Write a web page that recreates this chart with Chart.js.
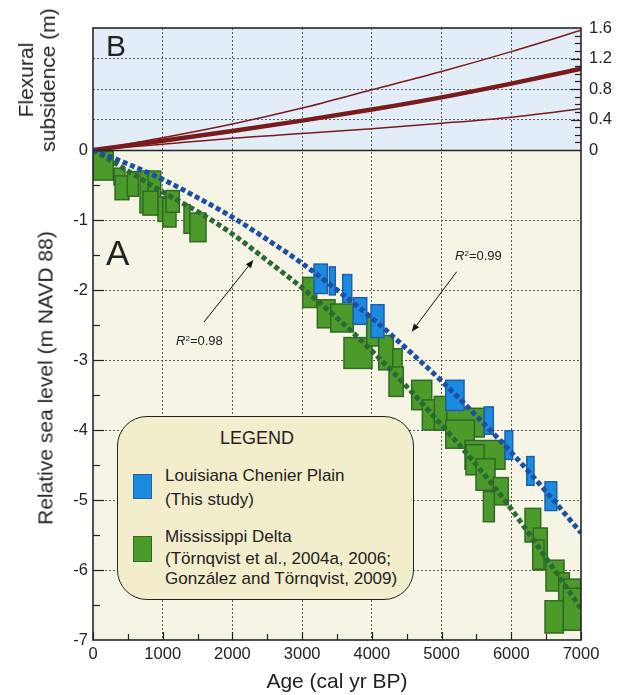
<!DOCTYPE html>
<html>
<head>
<meta charset="utf-8">
<script src="https://cdn.jsdelivr.net/npm/chart.js@4.4.1/dist/chart.umd.min.js"></script>
<style>
html,body{margin:0;padding:0;background:#fff;}
#wrap{position:relative;width:622px;height:695px;overflow:hidden;font-family:"Liberation Sans",Arial,Helvetica,sans-serif;color:#222;}
#c{position:absolute;left:0;top:0;}
.t{position:absolute;white-space:nowrap;line-height:1;}
.rot{position:absolute;white-space:nowrap;text-align:center;transform:translate(-50%,-50%) rotate(-90deg);}
#legend{position:absolute;left:117px;top:416px;width:297px;height:184px;box-sizing:border-box;border:1px solid #222;border-radius:30px;background:#f2edca;}
.sq{position:absolute;box-sizing:border-box;border:1.5px solid;}
sup{font-size:0.62em;vertical-align:0.45em;line-height:0;}
</style>
</head>
<body>
<div id="wrap">
<canvas id="c" width="622" height="695"></canvas>

<div class="t" style="left:106px;top:31px;font-size:30px;">B</div>
<div class="t" style="left:106px;top:235px;font-size:35px;">A</div>

<div class="t" style="left:176px;top:334px;font-size:13px;"><i>R</i><sup>2</sup>=0.98</div>
<div class="t" style="left:455px;top:249px;font-size:13px;"><i>R</i><sup>2</sup>=0.99</div>

<div id="legend"></div>
<div class="t" style="left:220px;top:429px;font-size:18px;">LEGEND</div>
<div class="sq" style="left:133px;top:474px;width:19px;height:25px;background:#1b8be0;border-color:#1f5fa8;"></div>
<div class="t" style="left:165px;top:467px;font-size:17px;">Louisiana Chenier Plain</div>
<div class="t" style="left:165px;top:491px;font-size:17px;">(This study)</div>
<div class="sq" style="left:133px;top:536px;width:19px;height:26px;background:#4c9a2a;border-color:#2f6b24;"></div>
<div class="t" style="left:165px;top:528px;font-size:17px;">Mississippi Delta</div>
<div class="t" style="left:165px;top:550px;font-size:17px;">(Törnqvist et al., 2004a, 2006;</div>
<div class="t" style="left:165px;top:570px;font-size:17px;">González and Törnqvist, 2009)</div>

<div class="t" style="left:237px;top:670px;width:200px;text-align:center;font-size:21px;">Age (cal yr BP)</div>
<div class="rot" style="left:45px;top:378px;font-size:21px;line-height:1;">Relative sea level (m NAVD 88)</div>
<div class="rot" style="left:37px;top:80px;font-size:21px;line-height:22px;">Flexural<br>subsidence (m)</div>
</div>

<script>
// ---------------- data ----------------
// Age (cal yr BP) sample positions for the fitted curves
const fitAges = [0,500,1000,1500,2000,2500,3000,3500,4000,4500,5000,5500,6000,6500,7000];
// Louisiana Chenier Plain fit (R2 = 0.99), m NAVD 88
const chenierFit = [0,-0.2,-0.42,-0.68,-0.96,-1.28,-1.62,-2.0,-2.4,-2.84,-3.3,-3.8,-4.32,-4.88,-5.47];
// Mississippi Delta fit (R2 = 0.98), m NAVD 88
const deltaFit = [0,-0.3,-0.6,-0.88,-1.2,-1.58,-1.97,-2.4,-2.87,-3.38,-3.93,-4.5,-5.13,-5.83,-6.55];

// Panel B: flexural subsidence (m)
const flexAges = [0,1000,2000,3000,4000,5000,6000,7000];
const flexHigh = [0,0.16,0.34,0.55,0.79,1.03,1.29,1.57];
const flexMid  = [0,0.12,0.25,0.385,0.53,0.69,0.87,1.065];
const flexLow  = [0,0.075,0.155,0.215,0.28,0.35,0.43,0.54];

// Sea-level index points: [age min, age max, elevation top, elevation bottom]
const deltaBoxes = [
 [0,290,-0.02,-0.43],[301,459,-0.26,-0.5],[316,516,-0.37,-0.71],[492,650,-0.31,-0.66],
 [674,818,-0.3,-0.9],[789,971,-0.3,-0.69],[717,932,-0.59,-0.93],[932,1047,-0.67,-1.02],
 [1000,1191,-0.69,-1.1],[1047,1238,-0.58,-0.89],[1305,1391,-0.78,-1.19],[1391,1621,-0.9,-1.31],
 [3008,3209,-1.82,-2.25],[3218,3472,-2.14,-2.54],[3410,3734,-2.2,-2.6],[3600,4002,-2.68,-3.12],
 [3926,4107,-2.38,-2.8],[4098,4308,-2.65,-3.14],[4299,4433,-2.84,-3.18],[4246,4451,-3.1,-3.52],
 [4572,4859,-3.29,-3.71],[4724,5002,-3.57,-4.0],[4896,5074,-3.52,-4.0],[5074,5613,-3.69,-4.1],
 [5060,5470,-3.86,-4.26],[5336,5910,-4.15,-4.56],[5350,5610,-4.21,-4.64],[5494,5767,-4.41,-4.86],
 [5742,5957,-4.68,-5.07],[5600,5757,-4.88,-5.31],[6197,6422,-5.12,-5.6],[6316,6517,-5.4,-6.0],
 [6307,6470,-5.57,-5.99],[6498,6756,-5.86,-6.3],[6680,6833,-6.04,-6.49],[6757,7000,-6.13,-6.54],
 [6484,6747,-6.44,-6.9],[6747,7000,-6.26,-6.86]
];
const chenierBoxes = [
 [3170,3360,-1.63,-2.05],[3390,3475,-1.67,-2.07],[3582,3711,-1.78,-2.18],[3734,3926,-2.11,-2.49],
 [3988,4174,-2.21,-2.68],[5060,5322,-3.29,-3.72],[5613,5742,-3.67,-4.06],[5910,6020,-4.01,-4.42],
 [6222,6326,-4.38,-4.79],[6484,6652,-4.74,-5.15]
];

// Annotation arrows in data coordinates: [from age, from elev, to age, to elev]
const arrows = [[1592,-2.457,2300,-1.571],[5217,-1.739,4572,-2.596]];

// Tick values
const ageTicks = [0,1000,2000,3000,4000,5000,6000,7000];
const ageMinor = [500,1500,2500,3500,4500,5500,6500];
const elevMinor = [-0.5,-1.5,-2.5,-3.5,-4.5,-5.5,-6.5];
const elevMajor = [-1,-2,-3,-4,-5,-6];
const flexTicks = [0.4,0.8,1.2];
const flexMinor = [0.1,0.2,0.3,0.5,0.6,0.7,0.9,1.0,1.1,1.3,1.4,1.5];

// ---------------- chart ----------------
Chart.defaults.font.family = '"Liberation Sans", Arial, Helvetica, sans-serif';
Chart.defaults.color = '#222';

const panelRatio = 122 / 490;  // height of panel B relative to panel A
const pts = (xs, ys) => xs.map((x, i) => ({x: x, y: ys[i]}));
const NONE = 'rgba(0,0,0,0)';
const GRID = '#5a5a5a';

const decor = {
  id: 'decor',
  beforeDraw(chart) {
    const {ctx, chartArea: a, scales: {y}} = chart;
    const y0 = y.getPixelForValue(0);
    ctx.save();
    ctx.fillStyle = '#e3edf7';
    ctx.fillRect(a.left, a.top, a.width, y0 - a.top);
    ctx.fillStyle = '#f6f4e4';
    ctx.fillRect(a.left, y0, a.width, a.bottom - y0);
    ctx.restore();
  },
  beforeDatasetsDraw(chart) {
    const {ctx, chartArea: a, scales: {x, y}} = chart;
    ctx.save();
    ctx.beginPath(); ctx.rect(a.left, a.top, a.width, a.height); ctx.clip();
    const draw = (arr, fill, stroke) => {
      for (const b of arr) {
        const x0 = x.getPixelForValue(b[0]), x1 = x.getPixelForValue(b[1]);
        const y0 = y.getPixelForValue(b[2]), y1 = y.getPixelForValue(b[3]);
        ctx.fillStyle = fill;
        ctx.fillRect(x0, y0, x1 - x0, y1 - y0);
        ctx.strokeStyle = stroke; ctx.lineWidth = 1.5;
        ctx.strokeRect(x0, y0, x1 - x0, y1 - y0);
      }
    };
    draw(deltaBoxes, '#4c9a2a', '#2f6b24');
    draw(chenierBoxes, '#1b8be0', '#1f5fa8');
    ctx.restore();
  },
  afterDatasetsDraw(chart) {
    const {ctx, chartArea: a, scales: {x, y, yB}} = chart;
    const y0 = Math.round(y.getPixelForValue(0)) + 0.5;
    ctx.save();
    ctx.strokeStyle = '#222';
    ctx.lineWidth = 1.2;
    const seg = (x1, y1, x2, y2) => { ctx.beginPath(); ctx.moveTo(x1, y1); ctx.lineTo(x2, y2); ctx.stroke(); };
    ageTicks.forEach(v => { const p = Math.round(x.getPixelForValue(v)) + 0.5; seg(p, a.bottom, p, a.bottom - 8); });
    ageMinor.forEach(v => { const p = Math.round(x.getPixelForValue(v)) + 0.5; seg(p, a.bottom, p, a.bottom - 6); });
    elevMajor.forEach(v => { const p = Math.round(y.getPixelForValue(v)) + 0.5; seg(a.left, p, a.left + 11, p); });
    elevMinor.forEach(v => { const p = Math.round(y.getPixelForValue(v)) + 0.5; seg(a.left, p, a.left + 7, p); });
    flexTicks.forEach(v => { const p = Math.round(yB.getPixelForValue(v)) + 0.5; seg(a.right, p, a.right - 10, p); });
    flexMinor.forEach(v => { const p = Math.round(yB.getPixelForValue(v)) + 0.5; seg(a.right, p, a.right - 6, p); });
    // frame and panel divider
    ctx.lineWidth = 1.6;
    ctx.strokeStyle = '#262626';
    ctx.strokeRect(a.left, a.top, a.width, a.height);
    seg(a.left, y0, a.right, y0);
    // arrows
    ctx.strokeStyle = '#111'; ctx.fillStyle = '#111'; ctx.lineWidth = 1;
    for (const ar of arrows) {
      const x1 = x.getPixelForValue(ar[0]), y1 = y.getPixelForValue(ar[1]);
      const x2 = x.getPixelForValue(ar[2]), y2 = y.getPixelForValue(ar[3]);
      const ang = Math.atan2(y2 - y1, x2 - x1);
      const L = 8, W = 3.2;
      const bx = x2 - L * Math.cos(ang), by = y2 - L * Math.sin(ang);
      seg(x1, y1, bx, by);
      ctx.beginPath();
      ctx.moveTo(x2, y2);
      ctx.lineTo(bx + W * Math.sin(ang), by - W * Math.cos(ang));
      ctx.lineTo(bx - W * Math.sin(ang), by + W * Math.cos(ang));
      ctx.closePath(); ctx.fill();
    }
    ctx.restore();
  }
};

new Chart(document.getElementById('c'), {
  type: 'scatter',
  data: {
    datasets: [
      {label: 'Chenier fit', data: pts(fitAges, chenierFit), showLine: true, yAxisID: 'y',
       borderColor: '#1d50a4', borderWidth: 5, borderDash: [5, 3], pointRadius: 0, cubicInterpolationMode: 'monotone'},
      {label: 'Delta fit', data: pts(fitAges, deltaFit), showLine: true, yAxisID: 'y',
       borderColor: '#2b6a33', borderWidth: 5, borderDash: [5, 3], pointRadius: 0, cubicInterpolationMode: 'monotone'},
      {label: 'Flex high', data: pts(flexAges, flexHigh), showLine: true, yAxisID: 'yB',
       borderColor: '#7a1b1b', borderWidth: 1.5, pointRadius: 0, cubicInterpolationMode: 'monotone'},
      {label: 'Flex mid', data: pts(flexAges, flexMid), showLine: true, yAxisID: 'yB',
       borderColor: '#7a1b1b', borderWidth: 4.5, pointRadius: 0, cubicInterpolationMode: 'monotone'},
      {label: 'Flex low', data: pts(flexAges, flexLow), showLine: true, yAxisID: 'yB',
       borderColor: '#7a1b1b', borderWidth: 1.5, pointRadius: 0, cubicInterpolationMode: 'monotone'}
    ]
  },
  options: {
    responsive: false,
    animation: false,
    devicePixelRatio: 1,
    layout: {padding: {top: 28, left: 0, right: 0, bottom: 0}},
    plugins: {legend: {display: false}, tooltip: {enabled: false}},
    scales: {
      x: {
        type: 'linear', position: 'bottom', min: 0, max: 7000,
        afterFit: s => { s.height = 55; },
        ticks: {stepSize: 1000, autoSkip: false, maxRotation: 0, padding: 5, font: {size: 16.5}, color: '#222',
                callback: v => String(v)},
        grid: {drawTicks: false, color: c => (c.tick.value > 0 && c.tick.value < 7000) ? GRID : NONE, lineWidth: 1},
        border: {display: false, dash: [2, 2]}
      },
      y: {
        type: 'linear', position: 'left', min: -7, max: 7 * panelRatio,
        afterFit: s => { s.width = 93; },
        ticks: {stepSize: 1, autoSkip: false, padding: 5, font: {size: 16.5}, color: '#222',
                callback: v => (v <= 0 && Number.isInteger(v)) ? String(v) : ''},
        grid: {drawTicks: false, color: c => (Number.isInteger(c.tick.value) && c.tick.value < 0 && c.tick.value > -7) ? GRID : NONE, lineWidth: 1},
        border: {display: false, dash: [2, 2]}
      },
      yB: {
        type: 'linear', position: 'right', min: -1.6 / panelRatio, max: 1.6,
        afterFit: s => { s.width = 41; },
        ticks: {stepSize: 0.4, autoSkip: false, padding: 8, font: {size: 16.5}, color: '#222',
                callback: v => v < -1e-6 ? '' : (Math.abs(v) < 1e-6 ? '0' : v.toFixed(1))},
        grid: {drawTicks: false, color: c => (c.tick.value > 0.01 && c.tick.value < 1.59) ? GRID : NONE, lineWidth: 1},
        border: {display: false, dash: [2, 2]}
      }
    }
  },
  plugins: [decor]
});
</script>
</body>
</html>
